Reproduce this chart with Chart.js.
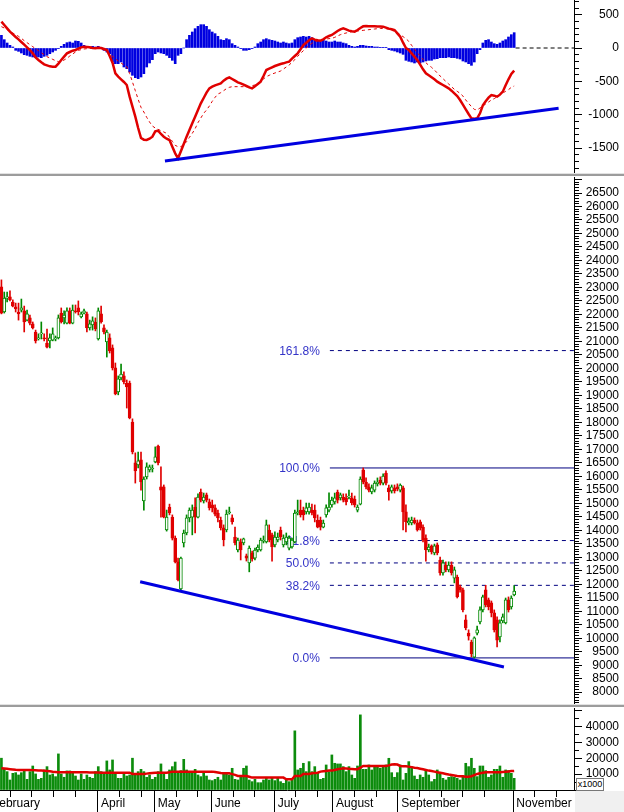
<!DOCTYPE html>
<html>
<head>
<meta charset="utf-8">
<script src="https://cdn.jsdelivr.net/npm/chart.js@4.4.1/dist/chart.umd.min.js"></script>
<style>
  html, body { margin: 0; padding: 0; background: #fff; }
  #wrap { position: relative; width: 624px; height: 812px; overflow: hidden; font-family: "Liberation Sans", Arial, sans-serif; }
  canvas { position: absolute; left: 0; }
  .sep { position: absolute; left: 0; width: 624px; }
  #corner { position: absolute; left: 575px; top: 791px; width: 49px; height: 21px; background: #f0f0f0; }
  #unit { position: absolute; left: 576px; top: 778px; width: 26px; height: 11px; border: 1px solid #777; background: #fff;
          font-size: 9px; line-height: 11px; text-align: center; color: #000; }
</style>
</head>
<body>
<div id="wrap">
  <canvas id="macdChart" width="624" height="174" style="top:0"></canvas>
  <canvas id="priceChart" width="624" height="528" style="top:177px"></canvas>
  <canvas id="volumeChart" width="624" height="104" style="top:708px"></canvas>
  <div class="sep" style="top:173px;height:1px;background:#e2e2e2"></div>
  <div class="sep" style="top:174px;height:2px;background:#9c9c9c"></div>
  <div class="sep" style="top:704px;height:1px;background:#e2e2e2"></div>
  <div class="sep" style="top:705px;height:2px;background:#9c9c9c"></div>
  <div id="corner"></div>
  <div id="unit">x1000</div>
</div>
<script>
// ---- data (one entry per trading day) ----
const opens = [
  23020,22090,22610,22650,22460,22280,22090,22160,22130,21790,
  21870,21650,21350,21090,21280,21130,20940,21020,21050,21090,
  21130,22050,21870,21680,22130,21680,22130,22240,21910,22050,
  22020,21500,21610,21720,21090,22020,21500,20980,21130,20760,
  20020,19130,19650,19720,19460,19460,18010,16500,16420,16610,
  15090,15980,16240,16270,16530,17120,15610,15610,14010,14860,
  14490,13710,12830,11830,13530,13900,14460,14490,14860,14490,
  15420,15090,15310,15050,14940,14830,14640,14380,14090,14010,
  14640,14460,13750,13270,13570,13530,13050,12790,13160,12970,
  13270,13270,13600,13570,14010,13830,13460,13640,14010,13460,
  13570,13340,13380,13570,14640,14750,14750,14680,14680,14750,
  14750,14380,14380,14120,14570,14750,14940,15050,15420,15200,
  15230,15200,15230,15200,15160,14750,14970,16240,15790,15610,
  15420,15490,15720,15860,15750,16120,15570,15460,15570,15610,
  15490,15570,14680,14270,14270,14380,14270,14310,14120,13710,
  13270,13420,13160,13460,12900,12420,12710,12530,12710,12230,
  12270,11900,11790,10680,10190,9860,9300,10190,10600,11050,
  11790,11420,11310,10940,10680,10050,10640,10570,11420,11160,
  11600
];
const closes = [
  22050,22610,22650,22540,22310,22200,22020,22240,21720,22020,
  21680,21500,21020,21130,21310,21090,20790,21130,21280,21130,
  21870,21720,21980,22130,21680,22160,22090,22090,22020,22130,
  21500,21650,21760,21460,22130,21720,21350,21350,20650,20020,
  19050,19610,19790,19500,19310,18160,16900,16200,16570,15790,
  15900,16350,16350,16310,16720,16500,15490,14490,14490,14640,
  13710,12830,12160,12970,13900,14460,14750,14750,14490,15230,
  15120,15230,15120,14830,14830,14600,14460,14090,13640,14600,
  14680,14310,13530,13640,13270,13680,12970,13340,12940,13270,
  13380,13640,13640,14200,13640,13380,13750,13750,13750,13710,
  13750,13710,13640,14640,14680,14570,14570,14830,14860,14640,
  14460,14120,14120,14270,14830,14860,15120,15200,15120,15310,
  15120,15050,15270,15010,14940,14860,15900,15790,15610,15490,
  15570,15750,15790,15750,16010,15750,15420,15610,15460,15530,
  15680,14680,14310,14340,14380,14270,14010,14090,13640,13270,
  13380,13200,13420,13160,12420,12790,12530,12710,12420,12530,
  11530,11790,11050,10380,10080,9420,10010,10310,11050,11530,
  11230,11160,10940,10310,9930,10570,10790,11420,11050,11490,
  11750
];
const highs = [
  23280,22830,22830,22870,22540,22420,22420,22570,22310,22160,
  21980,21720,21420,21280,21720,21280,21460,21280,21500,21200,
  21980,22240,22130,22240,22240,22350,22350,22500,22090,22200,
  22090,21790,21910,21870,22240,22310,21610,21420,21280,20870,
  20200,19720,20160,19870,19570,19530,18130,16870,16900,16900,
  15980,16500,16420,16420,17090,17160,16350,15680,14750,14970,
  14570,13790,12970,13010,14010,14570,14830,14940,15200,15350,
  15530,15380,15380,15160,15120,14940,14750,14490,14200,14750,
  14860,14570,14120,13710,13680,13710,13120,13420,13230,13340,
  13460,13710,13790,14380,14200,13900,13940,13900,14120,13830,
  13900,13790,13710,14750,15120,15120,14860,15010,15010,14970,
  14940,14570,14490,14380,14940,15390,15230,15380,15490,15380,
  15350,15350,15490,15380,15270,14940,15980,16310,15940,15720,
  15680,15830,15940,15980,16090,16200,15680,15680,15680,15720,
  15720,15640,14940,14460,14490,14460,14380,14380,14200,13830,
  13490,13460,13490,13530,13010,12900,12830,12830,12830,12640,
  12340,11970,11860,10860,10310,9930,10050,10450,11160,11600,
  11960,11490,11380,11050,10790,10680,10900,11490,11530,11570,
  11950
];
const lows = [
  22020,22050,22460,22500,22280,22090,21790,22090,21350,21760,
  21610,21460,20940,21050,21090,21020,20760,20760,21020,21020,
  21090,21680,21650,21650,21650,21650,22050,21980,21870,22020,
  21350,21420,21420,21390,21050,21680,21280,20420,20570,19940,
  19020,19020,19570,19420,18530,18130,16830,15750,16310,15490,
  14750,15900,16160,16160,16500,16420,14490,14460,13970,14570,
  13640,12790,12120,11780,13380,13830,14310,13830,13900,14460,
  15050,15010,15050,14750,14680,14530,14310,14010,13420,13940,
  14600,14230,13460,13200,12900,13460,12860,12460,12860,12900,
  13200,13230,13530,13530,13570,12860,13380,13570,13640,13380,
  13460,13270,13340,13530,14570,14490,14380,14600,14600,14570,
  14310,14090,14010,14090,14490,14680,14860,14970,15010,15120,
  15050,14940,15160,14940,14860,14680,14940,15720,15530,15420,
  15350,15420,15640,15680,15680,15680,15120,15380,15380,15460,
  15420,14010,13940,14200,14200,14230,13970,14010,13570,12860,
  13200,13120,13090,13090,12340,12340,12460,12460,12340,12050,
  11490,11710,10970,10310,9930,9310,9260,10120,10530,10970,
  11160,11050,10790,10230,9680,9860,10570,10530,10970,11080,
  11570
];
// volume (x1000) and its moving average
const volumes = [
  20000,13650,11550,6300,10500,10900,9450,10900,12200,6700,
  11550,15100,10100,6700,7350,12600,14700,9450,10100,8400,
  22700,10100,8000,12000,12000,10900,8800,6300,10100,6700,
  9450,8000,7350,11550,14700,11550,10900,18300,12600,18900,
  10100,7350,7350,10900,8800,9450,20000,10100,11550,13000,
  11550,8000,9450,6700,8000,11550,16400,10900,6700,12600,
  14700,17600,10900,12200,19300,12600,11550,11550,13000,9450,
  8400,10500,8800,6300,5900,6700,8000,6300,10100,10500,
  9450,13650,6700,6300,8800,13650,15100,6300,5250,6700,
  4600,4600,6300,8000,6300,7350,5900,8000,5250,4200,
  6300,5250,6700,37200,12600,13650,16800,11550,17850,11550,
  14700,10900,6700,7350,15750,11550,22050,16800,16400,16400,
  14700,11550,14700,9450,7350,15100,47250,13000,13000,15750,
  12600,14700,14700,13650,15100,15750,19950,10900,8000,10900,
  15750,6300,10500,17850,14700,8800,6700,9450,8000,12200,
  9450,5250,6700,12600,10500,7350,6300,8000,8400,8000,
  7350,6300,8800,16800,14700,19950,13650,8400,15100,15100,
  12200,8000,9450,13000,13000,15100,8000,12600,12200,10500,
  7350
];
const volumeMa = [
  13650,13500,13300,13100,12900,12700,12600,12600,12600,12600,
  12600,12500,12400,12300,12200,12100,12000,11800,11500,11300,
  11100,11100,11100,11100,11100,11100,11100,11100,11100,11100,
  11100,11000,11000,11000,11000,10900,10900,10900,10900,10900,
  10900,10900,10900,10900,10900,10900,10100,10100,10100,10100,
  10100,10300,10500,10700,10900,10900,10900,10900,10900,11200,
  11550,11550,11550,11550,11550,11550,11550,11550,11550,11550,
  11550,11550,11550,11550,11550,11300,11000,10700,10500,10500,
  10500,10000,9500,8800,8800,8800,8800,8300,7800,7800,
  7800,7800,7800,7800,7800,7800,7800,7800,7800,7800,
  6700,6700,6700,8800,8800,8800,10100,10100,10100,10500,
  10700,10900,11550,11800,12000,12200,12200,12600,13000,13300,
  13650,13500,13300,13200,13100,13100,14000,15100,15100,15100,
  15100,15100,15100,15100,15100,15100,15500,16000,16200,16000,
  15100,15000,14900,14700,14400,14000,13800,13400,13000,12600,
  12200,11900,11550,11200,10900,10500,10100,9700,9400,9100,
  8800,8700,8600,8400,8400,8700,9400,10100,10500,10800,
  11100,11100,11100,11100,11100,11100,11300,11500,11700,11900,
  12000
];
// MACD panel
const macdLine = [
  395,345,295,245,205,165,130,90,50,10,
  -30,-80,-140,-180,-215,-245,-260,-275,-280,-280,
  -235,-180,-130,-80,-60,-40,-30,-10,10,20,
  15,10,0,-5,5,0,-15,-30,-120,-220,
  -380,-430,-470,-510,-555,-730,-880,-1030,-1200,-1350,
  -1375,-1380,-1360,-1330,-1250,-1240,-1290,-1330,-1360,-1380,
  -1480,-1580,-1655,-1550,-1440,-1330,-1230,-1130,-1030,-930,
  -830,-750,-670,-605,-580,-560,-545,-530,-490,-460,
  -440,-465,-490,-515,-530,-550,-570,-590,-605,-575,
  -540,-505,-420,-330,-310,-290,-270,-255,-240,-230,
  -215,-205,-160,-120,-80,-20,45,80,115,145,
  125,115,110,130,160,180,195,225,255,280,
  295,280,260,250,245,270,300,325,330,328,
  326,325,323,322,320,305,290,280,270,220,
  170,80,0,-30,-80,-130,-180,-250,-320,-380,
  -410,-440,-470,-505,-530,-555,-580,-605,-640,-680,
  -720,-780,-850,-920,-990,-1055,-1060,-1055,-980,-860,
  -800,-745,-705,-715,-730,-700,-655,-560,-470,-390,
  -340
];
const signalLine = [
  320,300,275,250,225,200,175,145,110,80,
  50,20,-10,-40,-70,-100,-130,-150,-170,-190,
  -205,-200,-180,-155,-120,-90,-60,-35,-25,-15,
  -10,-5,-5,-5,-5,-10,-30,-60,-90,-125,
  -160,-195,-225,-255,-280,-380,-510,-640,-770,-890,
  -960,-1040,-1110,-1170,-1200,-1220,-1240,-1260,-1280,-1340,
  -1400,-1460,-1480,-1480,-1450,-1405,-1340,-1280,-1210,-1120,
  -1050,-980,-930,-870,-800,-740,-690,-670,-640,-610,
  -590,-580,-580,-580,-580,-580,-580,-575,-565,-555,
  -530,-500,-465,-430,-410,-390,-375,-360,-345,-315,
  -285,-255,-215,-175,-125,-80,-40,0,40,70,
  95,105,115,125,135,140,145,160,180,200,
  215,225,235,245,250,255,260,265,270,275,
  280,285,290,292,295,290,280,265,250,230,
  200,170,140,100,40,-20,-70,-120,-170,-220,
  -260,-290,-330,-375,-420,-460,-500,-540,-580,-620,
  -650,-680,-720,-780,-830,-880,-920,-930,-900,-870,
  -840,-810,-780,-760,-730,-700,-675,-650,-625,-590,
  -570
];
const macdHist = [
  190,125,75,40,15,-35,-50,-75,-100,-110,
  -125,-135,-145,-135,-145,-125,-110,-85,-60,-35,
  -10,25,55,80,90,75,105,100,75,40,
  25,15,25,15,25,5,-35,-60,-85,-210,
  -235,-235,-210,-285,-310,-360,-410,-445,-460,-435,
  -385,-285,-225,-175,-85,-60,-75,-85,-110,-145,
  -185,-235,-110,-85,0,125,190,240,290,325,
  350,350,325,275,240,215,175,125,115,140,
  125,65,40,15,-10,-35,-35,-25,-10,15,
  65,90,125,140,125,115,105,90,75,90,
  75,65,75,125,155,165,175,165,175,155,
  125,115,115,125,105,90,90,105,90,90,
  75,65,40,25,15,25,40,40,30,25,
  25,15,15,10,10,5,-25,-35,-45,-60,
  -75,-95,-185,-200,-210,-225,-210,-225,-210,-195,
  -185,-185,-165,-160,-145,-145,-145,-135,-145,-145,
  -155,-165,-195,-210,-235,-260,-210,-85,-25,75,
  115,125,90,65,55,75,105,125,165,200,
  230
];

// trend lines (day index, value)
const priceTrendX = [48.7, 176.4];
const priceTrendY = [12095, 8934];
const macdTrendX = [57.4, 195.6];
const macdTrendY = [-1695, -905];

// fibonacci levels
const fibLevels = [20660, 16310, 13620, 12790, 11960, 9270];
const fibNames = ['161.8%', '100.0%', '61.8%', '50.0%', '38.2%', '0.0%'];
const fibSolid = [false, true, false, false, false, true];
const FIB_START = 115.3;

// month ticks on the time axis (day index)
const monthTickPos = [-4.5, 33.8, 53.7, 73.7, 95.8, 116.3, 139.2, 179.6];
const monthNames = ['February', 'April', 'May', 'June', 'July', 'August', 'September', 'November'];

// ---- styles ----
const FONT = '"Liberation Sans", Arial, sans-serif';
const RED = '#e00000';
const GREEN = '#008800';
const BLUE = '#0000e0';
const NAVY = '#000080';
const X_MIN = -0.5, X_MAX = 201;
const AXIS_W = 45;

const pts = (xs, ys) => xs.map((x, i) => ({ x: x, y: ys[i] }));
const series = arr => arr.map((v, i) => ({ x: i, y: v }));

function rightAxis(min, max, minor, major, showLabel) {
    return {
        type: 'linear',
        position: 'right',
        min: min,
        max: max,
        afterFit: s => {
            s.width = AXIS_W;
            s.paddingTop = 0;
            s.paddingBottom = 0;
        },
        afterBuildTicks: s => {
            const t = [];
            for (let v = Math.ceil(min / minor) * minor; v <= max; v += minor) t.push({ value: v });
            s.ticks = t;
        },
        border: { display: true, color: '#000', width: 1 },
        grid: {
            drawOnChartArea: false,
            drawTicks: true,
            tickLength: 8,
            tickColor: '#000',
            tickWidth: 1,
            tickBorderDash: ctx => (ctx.tick && ctx.tick.value % major === 0 ? [] : [4, 20])
        },
        ticks: {
            autoSkip: false,
            crossAlign: 'far',
            padding: 2,
            color: '#000',
            font: { family: FONT, size: 12 },
            callback: v => (v % major === 0 && showLabel(v) ? String(v) : '')
        }
    };
}

const hiddenX = { type: 'linear', min: X_MIN, max: X_MAX, display: false, offset: false };

function baseOptions(yAxis, xAxis) {
    return {
        responsive: false,
        animation: false,
        devicePixelRatio: 1,
        events: [],
        layout: { padding: { left: 0, right: 5, top: 0, bottom: 0 } },
        plugins: { legend: { display: false }, tooltip: { enabled: false } },
        scales: { x: xAxis, y: yAxis }
    };
}

// ---- MACD panel ----
new Chart(document.getElementById('macdChart'), {
    type: 'line',
    data: {
        datasets: [
            {
                type: 'line', data: pts(macdTrendX, macdTrendY),
                borderColor: BLUE, borderWidth: 3, pointRadius: 0, order: 0
            },
            {
                type: 'line', data: series(macdLine),
                borderColor: RED, borderWidth: 2.5, pointRadius: 0, tension: 0, order: 1
            },
            {
                type: 'line', data: series(signalLine),
                borderColor: RED, borderWidth: 1, borderDash: [3, 3], pointRadius: 0, tension: 0, order: 2
            },
            {
                type: 'bar', data: series(macdHist),
                backgroundColor: BLUE, barThickness: 2, grouped: false, order: 3
            },
            {
                type: 'line', data: [{ x: 180.5, y: 0 }, { x: X_MAX, y: 0 }],
                borderColor: '#000', borderWidth: 1, borderDash: [4, 3], pointRadius: 0, order: 4
            }
        ]
    },
    options: baseOptions(rightAxis(-1890, 720, 100, 500, v => v >= -1500 && v <= 500), hiddenX)
});

// ---- price panel ----
const fibLabelPlugin = {
    id: 'fibLabels',
    beforeDatasetsDraw(chart) {
        const { ctx } = chart;
        const x = chart.scales.x, y = chart.scales.y;
        ctx.save();
        ctx.font = '12px ' + FONT;
        ctx.fillStyle = '#3333c8';
        ctx.textAlign = 'right';
        ctx.textBaseline = 'middle';
        fibLevels.forEach((lv, k) => {
            ctx.fillText(fibNames[k], x.getPixelForValue(FIB_START) - 10, y.getPixelForValue(lv) + 1);
        });
        ctx.restore();
    }
};

const fibSets = fibLevels.map((lv, k) => ({
    type: 'line',
    data: [{ x: FIB_START, y: lv }, { x: X_MAX, y: lv }],
    borderColor: NAVY,
    borderWidth: 1,
    borderDash: fibSolid[k] ? [] : [4, 4],
    pointRadius: 0,
    order: 5
}));

const isUp = i => closes[i] >= opens[i];

new Chart(document.getElementById('priceChart'), {
    type: 'line',
    data: {
        datasets: [
            {
                type: 'line', data: pts(priceTrendX, priceTrendY),
                borderColor: BLUE, borderWidth: 3, pointRadius: 0, order: 0
            },
            {
                type: 'bar',
                data: opens.map((o, i) => ({ x: i, y: [o, closes[i]] })),
                backgroundColor: ctx => (isUp(ctx.dataIndex) ? '#ffffff' : RED),
                borderColor: ctx => (isUp(ctx.dataIndex) ? GREEN : RED),
                borderWidth: 1,
                borderSkipped: false,
                minBarLength: 1,
                barThickness: 3,
                grouped: false,
                order: 1
            },
            {
                type: 'bar',
                data: lows.map((l, i) => ({ x: i, y: [l, highs[i]] })),
                backgroundColor: ctx => (isUp(ctx.dataIndex) ? GREEN : RED),
                barThickness: 1,
                grouped: false,
                order: 2
            },
            ...fibSets
        ]
    },
    options: baseOptions(rightAxis(7525, 27093, 100, 500, v => v >= 8000 && v <= 26500), hiddenX),
    plugins: [fibLabelPlugin]
});

// ---- volume panel with the time axis ----
const timeAxis = {
    type: 'linear',
    position: 'bottom',
    min: X_MIN,
    max: X_MAX,
    offset: false,
    afterFit: s => {
        s.height = 22;
        s.paddingLeft = 0;
        s.paddingRight = 0;
    },
    afterBuildTicks: s => {
        const t = [];
        const edges = monthTickPos.concat([X_MAX]);
        for (let k = 0; k < monthTickPos.length; k++) {
            t.push({ value: monthTickPos[k] });
            for (let v = monthTickPos[k] + 7.6; v < edges[k + 1] - 3; v += 7.6) t.push({ value: v });
        }
        s.ticks = t;
    },
    border: { display: true, color: '#000', width: 1 },
    grid: {
        offset: false,
        drawOnChartArea: false,
        drawTicks: true,
        tickLength: 22,
        tickColor: '#000',
        tickWidth: 1,
        tickBorderDash: ctx => (ctx.tick && monthTickPos.includes(ctx.tick.value) ? [] : [6, 40])
    },
    ticks: {
        autoSkip: false,
        maxRotation: 0,
        minRotation: 0,
        align: 'start',
        padding: -16,
        color: '#000',
        font: { family: FONT, size: 12 },
        callback: v => {
            const k = monthTickPos.indexOf(v);
            return k >= 0 ? ' ' + monthNames[k] : '';
        }
    }
};

new Chart(document.getElementById('volumeChart'), {
    type: 'line',
    data: {
        datasets: [
            {
                type: 'line', data: series(volumeMa),
                borderColor: RED, borderWidth: 2.5, pointRadius: 0, tension: 0, order: 1
            },
            {
                type: 'bar', data: series(volumes),
                backgroundColor: '#0c8c0c', barThickness: 2, grouped: false, order: 2
            }
        ]
    },
    options: baseOptions(rightAxis(0, 51570, 5000, 10000, v => v >= 10000 && v <= 40000), timeAxis)
});
</script>
</body>
</html>
